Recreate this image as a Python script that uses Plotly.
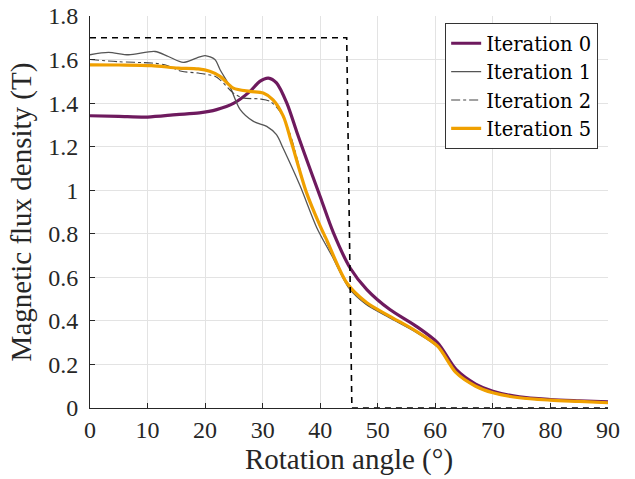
import plotly.graph_objects as go

# Iteration 0
x0 = [0, 5, 10, 15, 19, 22, 25, 27.8, 29.5, 31, 32.4, 34.2, 35.9, 37.1, 40, 42.3, 45.2, 48.1, 52.1, 56.7, 60.4, 63.6, 67, 70, 74.6, 80, 85, 90]
y0 = [1.342, 1.339, 1.336, 1.347, 1.355, 1.37, 1.40, 1.454, 1.50, 1.515, 1.493, 1.40, 1.27, 1.18, 0.97, 0.804, 0.643, 0.544, 0.452, 0.375, 0.299, 0.177, 0.11, 0.077, 0.051, 0.039, 0.033, 0.028]

# Iteration 1
x1 = [0, 3.2, 6.7, 11.3, 13.6, 16.2, 18.5, 20, 21.7, 22.6, 24.3, 26.1, 28.4, 30.7, 32.4, 33.6, 36.5, 39.4, 42, 45, 48, 52, 56.7, 60.4, 63.6, 67, 70, 75, 80, 85, 90]
y1 = [1.622, 1.633, 1.622, 1.637, 1.614, 1.587, 1.607, 1.618, 1.60, 1.553, 1.477, 1.37, 1.316, 1.293, 1.255, 1.19, 1.02, 0.828, 0.70, 0.55, 0.475, 0.415, 0.347, 0.28, 0.16, 0.098, 0.068, 0.046, 0.036, 0.03, 0.024]

# Iteration 2
x2 = [0, 4.9, 10.7, 13, 15.9, 18.8, 21.7, 22.6, 24.9, 26.6, 29.5, 31.3, 33, 34.7, 37.6, 40, 42, 45, 48, 52, 56.7, 60.4, 63.6, 67, 70, 75, 80, 85, 90]
y2 = [1.60, 1.59, 1.584, 1.576, 1.546, 1.538, 1.523, 1.507, 1.446, 1.424, 1.419, 1.408, 1.362, 1.263, 0.99, 0.83, 0.71, 0.555, 0.478, 0.418, 0.349, 0.282, 0.161, 0.099, 0.069, 0.046, 0.036, 0.03, 0.024]

# Iteration 5
x5 = [0, 5, 10.7, 15.3, 18.8, 20.8, 22.6, 24.9, 27.8, 30.1, 31.8, 33.6, 35, 37.6, 40, 41.1, 44.6, 48.1, 52.1, 56.7, 60.4, 63.6, 67, 70, 74.6, 80, 85, 90]
y5 = [1.576, 1.575, 1.572, 1.561, 1.557, 1.546, 1.523, 1.469, 1.454, 1.446, 1.415, 1.339, 1.22, 0.99, 0.835, 0.773, 0.575, 0.483, 0.421, 0.352, 0.284, 0.162, 0.10, 0.070, 0.047, 0.036, 0.03, 0.024]

# Reference step
xs = [0, 44.6, 45.5, 90]
ys = [1.7, 1.7, 0, 0]

x_ticks = [0, 10, 20, 30, 40, 50, 60, 70, 80, 90]
y_ticks = [0, 0.2, 0.4, 0.6, 0.8, 1, 1.2, 1.4, 1.6, 1.8]
y_tick_text = ["0", "0.2", "0.4", "0.6", "0.8", "1", "1.2", "1.4", "1.6", "1.8"]

FONT = "Liberation Serif, Times New Roman, serif"
LEG_FONT = "DejaVu Serif, serif"
TXT = "#262626"

fig = go.Figure()
fig.add_trace(go.Scatter(x=x0, y=y0, mode="lines", name="Iteration 0",
                         line=dict(color="#6E1A5E", width=3.2, shape="spline", smoothing=0.8)))
fig.add_trace(go.Scatter(x=x1, y=y1, mode="lines", name="Iteration 1",
                         line=dict(color="#555555", width=1.3, shape="spline", smoothing=0.8)))
fig.add_trace(go.Scatter(x=x2, y=y2, mode="lines", name="Iteration 2",
                         line=dict(color="#444444", width=1.1, dash="dashdot", shape="spline", smoothing=0.8)))
fig.add_trace(go.Scatter(x=x5, y=y5, mode="lines", name="Iteration 5",
                         line=dict(color="#F0A000", width=3.2, shape="spline", smoothing=0.8)))
fig.add_trace(go.Scatter(x=xs, y=ys, mode="lines", showlegend=False, cliponaxis=False,
                         line=dict(color="#000000", width=1.6, dash="6px,5px")))

fig.update_layout(
    width=635, height=479,
    margin=dict(l=90, r=27, t=16, b=71),
    paper_bgcolor="white", plot_bgcolor="white",
    font=dict(family=FONT, color=TXT, size=22),
    showlegend=True,
    legend=dict(x=0.981, y=0.982, xanchor="right", yanchor="top",
                bgcolor="white", bordercolor="#333333", borderwidth=1,
                font=dict(family=LEG_FONT, size=19.5, color="#000000"),
                itemwidth=30, tracegroupgap=0),
    xaxis=dict(range=[0, 90], tickvals=x_ticks, ticks="inside", ticklen=5,
               tickcolor=TXT, showline=True, linecolor=TXT, linewidth=1,
               showgrid=True, gridcolor="#E3E3E3", gridwidth=1, zeroline=False,
               automargin=False,
               tickfont=dict(size=24, family=FONT, color=TXT),
               title=dict(text="Rotation angle (°)", font=dict(size=29, family=FONT, color=TXT), standoff=4)),
    yaxis=dict(range=[0, 1.8], tickvals=y_ticks, ticktext=y_tick_text, ticks="inside", ticklen=5,
               tickcolor=TXT, showline=True, linecolor=TXT, linewidth=1,
               showgrid=True, gridcolor="#E3E3E3", gridwidth=1, zeroline=False,
               automargin=False,
               tickfont=dict(size=24, family=FONT, color=TXT), ticklabelstandoff=6,
               title=dict(text="Magnetic flux density (T)", font=dict(size=29, family=FONT, color=TXT), standoff=8)),
)

fig.write_html("out.html", config={"displayModeBar": False},
               post_script="document.body.style.margin='0';document.body.style.padding='0';")
